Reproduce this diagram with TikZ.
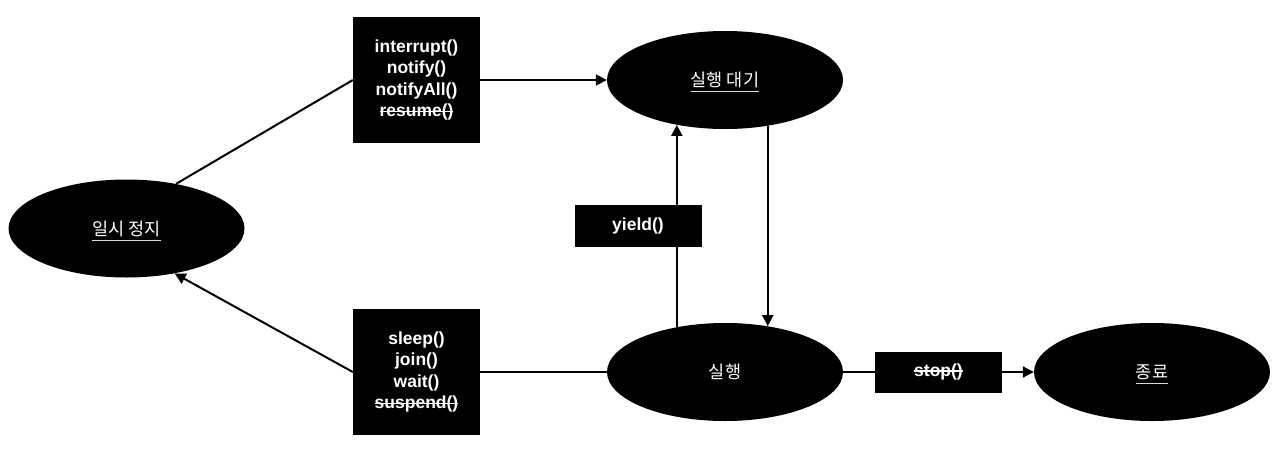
\documentclass[tikz,border=0pt]{standalone}
\usepackage{fontspec}
\setmainfont{Liberation Sans}
\newfontfamily\kr{Noto Sans CJK KR}
\usetikzlibrary{arrows.meta,shapes.geometric}
\newcommand\strikeout[1]{\sbox0{#1}\leavevmode\rlap{\raisebox{0.27em}{\rule{\wd0}{0.08em}}}\usebox0}
\newcommand\underlined[1]{\sbox0{#1}\leavevmode\rlap{\raisebox{-0.32em}[0pt][0pt]{\color{white!85!black}\rule{\wd0}{0.06em}}}\usebox0}

\begin{document}
\begin{tikzpicture}[x=1pt, y=-1pt,
	state/.style={ellipse, fill=black, text=white, inner sep=0pt, minimum width=236pt, minimum height=98pt, font=\kr\fontsize{17.5}{21}\selectfont},
	methods/.style={rectangle, fill=black, text=white, inner sep=0pt, minimum width=127pt, align=center, font=\bfseries\fontsize{17.5}{21.5}\selectfont},
	link/.style={line width=2pt},
	flow/.style={link, -{Triangle[length=11pt, width=11pt]}}]
		%%%%% START %%%%%
		\fill[white] (0, 0) rectangle (1280, 450);
		\useasboundingbox (0, 0) rectangle (1280, 450);
		
		\node[state] (pause) at (126.5, 228.5) {\underlined{일시 정지}};
		\node[state] (ready) at (725, 80) {\underlined{실행 대기}};
		\node[state] (run) at (725, 372) {실행};
		\node[state] (end) at (1152, 372) {\underlined{종료}};
		
		\node[methods, minimum height=126pt] (wake) at (416.5, 80) {interrupt()\\notify()\\notifyAll()\\\strikeout{resume()}};
		\node[methods, minimum height=126pt] (block) at (416.5, 372) {sleep()\\join()\\wait()\\\strikeout{suspend()}};
		\node[methods, minimum height=42pt] (yield) at (638, 226) {yield()};
		\node[methods, minimum height=41pt] (stop) at (938.5, 372) {\strikeout{stop()}};
		
		\draw[link] (pause.42.5) -- (wake.west);
		\draw[flow] (wake.east) -- (ready.west);
		\draw[flow] (ready.-47.5) -- (run.47.5);
		\draw[link] (run.137.7) -- (run.137.7 |- yield.south);
		\draw[flow] (run.137.7 |- yield.north) -- (ready.-137.7);
		\draw[link] (run.west) -- (block.east);
		\draw[flow] (block.west) -- (pause.-43.8);
		\draw[link] (run.east) -- (stop.west);
		\draw[flow] (stop.east) -- (end.west);
		%%%%% END %%%%%
\end{tikzpicture}
\end{document}
